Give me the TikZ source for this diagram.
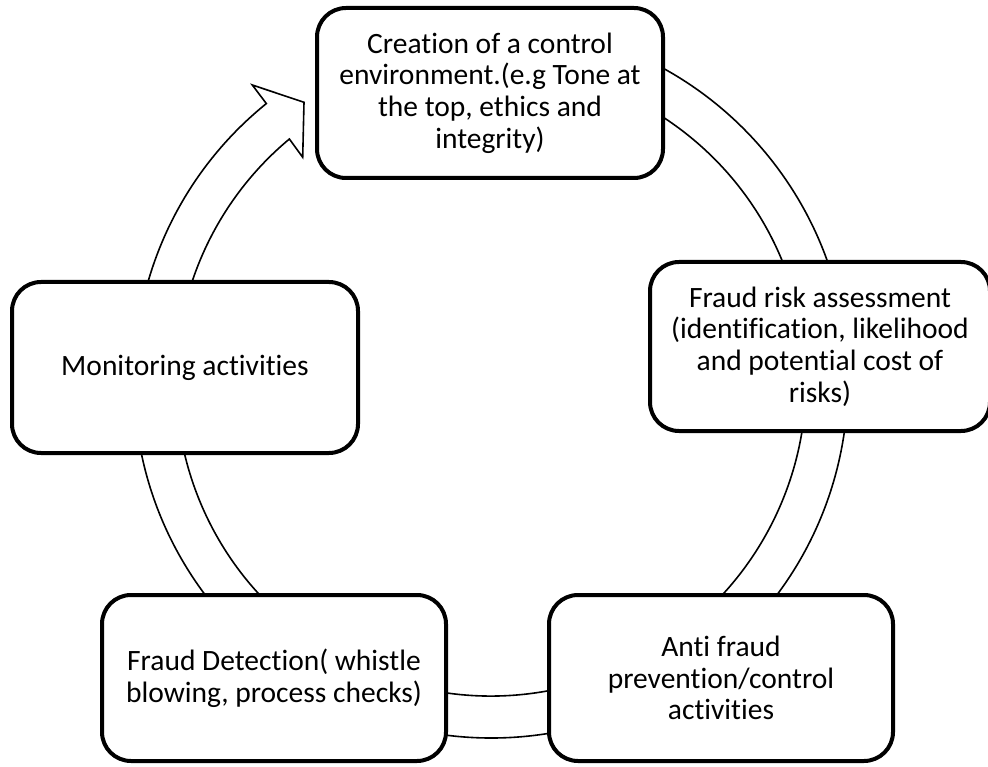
\documentclass[tikz,border=0pt]{standalone}
\usepackage{fontspec}
\setmainfont{Carlito}[Ligatures={NoCommon}]
\usetikzlibrary{calc}
\begin{document}
\begin{tikzpicture}[x=1pt,y=-1pt,
  stagebox/.style={draw=black, line width=4pt, fill=white, rounded corners=29pt,
    align=center, inner sep=0pt, outer sep=0pt,
    font=\fontsize{29.5pt}{31.7pt}\selectfont},
  ring/.style={draw=black, line width=1.6pt, fill=white, line join=miter}]
\useasboundingbox (0,0) rectangle (988,767);
% cycle arrow (block arc) behind the boxes
\coordinate (c) at (491,381);
\coordinate (ho) at ($(c)+(231:357)$);
\coordinate (tipB) at (302.7,157.3);
\coordinate (tipT) at (304,102.3);
\coordinate (barb) at (252.3,85);
\draw[ring] (ho) arc[start angle=231, end angle=-105, radius=357]
  -- ($(c)+(-105:315)$) arc[start angle=-105, end angle=230.2, radius=315]
  -- (tipB) -- (tipT) -- (barb) -- cycle;
% stage boxes
\node[stagebox, minimum width=346pt, minimum height=170pt] (top) at (490,93)
  {Creation of a control\\environment.(e.g Tone at\\the top, ethics and\\integrity)};
\node[stagebox, minimum width=340pt, minimum height=169pt] (risk) at (820,346.5)
  {Fraud risk assessment\\(identification, likelihood\\and potential cost of\\risks)};
\node[stagebox, minimum width=344pt, minimum height=166pt] (prev) at (721,678)
  {Anti fraud\\prevention/control\\activities};
\node[stagebox, minimum width=344pt, minimum height=166pt] (detect) at (274,678)
  {Fraud Detection( whistle\\blowing, process checks)};
\node[stagebox, minimum width=346pt, minimum height=171pt] (monitor) at (185,367.5)
  {Monitoring activities};
\end{tikzpicture}
\end{document}
